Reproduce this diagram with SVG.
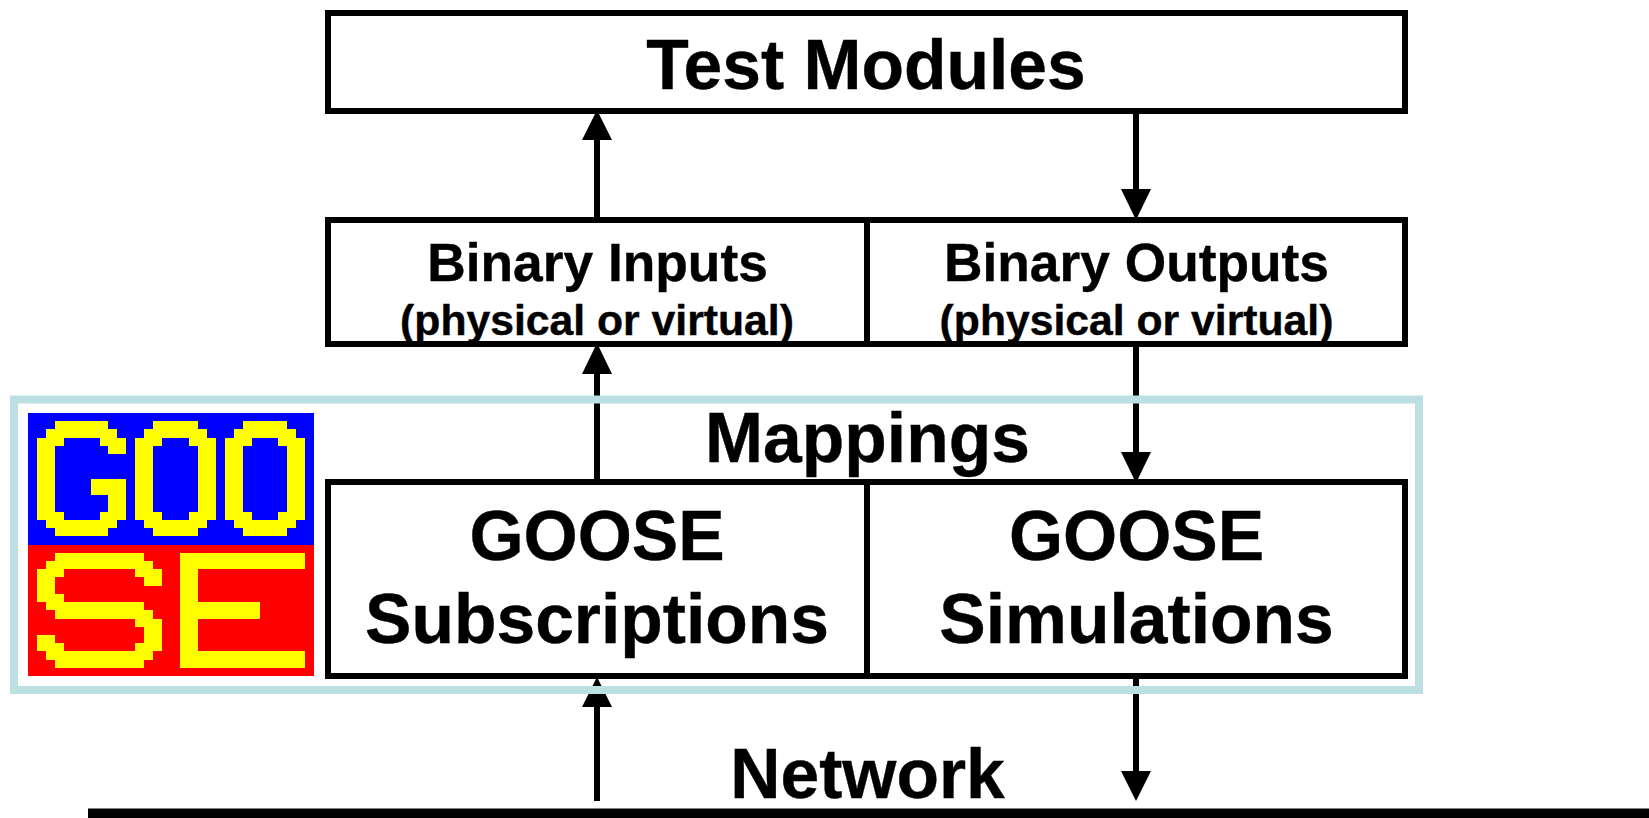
<svg xmlns="http://www.w3.org/2000/svg" width="1649" height="818" viewBox="0 0 1649 818">
<style>
text{font-family:"Liberation Sans",Arial,sans-serif;font-weight:bold;fill:#000;stroke:#000;stroke-width:.4;text-anchor:middle}
.big{font-size:69.6px}.mid{font-size:53.3px}.small{font-size:42.7px}
.box{fill:#fff;stroke:#000;stroke-width:6}
.div{stroke:#000;stroke-width:6;fill:none}
.conn{stroke:#000;stroke-width:6;fill:none}
.head{fill:#000}
.y{fill:#ff0}
</style>
<rect width="1649" height="818" fill="#fff"/>
<g id="test-modules"><rect class="box" x="328" y="13" width="1077" height="98"/><text class="big" x="866" y="89">Test Modules</text></g>
<g id="binary-io">
<rect class="box" x="328" y="220" width="1077" height="124"/><path class="div" d="M867 220V344"/>
<g id="binary-inputs"><text class="mid" x="597.5" y="281">Binary Inputs</text><text class="small" x="597" y="335">(physical or virtual)</text></g>
<g id="binary-outputs"><text class="mid" x="1136.5" y="281">Binary Outputs</text><text class="small" x="1136.5" y="335">(physical or virtual)</text></g>
</g>
<g id="goose-box">
<rect class="box" x="328" y="482" width="1077" height="194"/><path class="div" d="M867 482V676"/>
<g id="goose-subscriptions"><text class="big" x="597" y="560">GOOSE</text><text class="big" x="597" y="643">Subscriptions</text></g>
<g id="goose-simulations"><text class="big" x="1136.5" y="560">GOOSE</text><text class="big" x="1136.5" y="643">Simulations</text></g>
</g>
<g id="connectors">
<path class="conn" d="M597 220V138"/><path class="head" d="M597 110L612 140H582Z"/>
<path class="conn" d="M1136 111V191"/><path class="head" d="M1136 220L1121 189H1151Z"/>
<path class="conn" d="M597 482V372"/><path class="head" d="M597 343L612 374H582Z"/>
<path class="conn" d="M1136 344V454"/><path class="head" d="M1136 483L1121 452H1151Z"/>
<path class="conn" d="M597 801V705"/><path class="head" d="M597 677L612 707H582Z"/>
<path class="conn" d="M1136 679V773"/><path class="head" d="M1136 801L1121 771H1151Z"/>
</g>
<g id="mappings"><rect x="14" y="399.5" width="1405" height="290.5" fill="none" stroke="#bce0e2" stroke-width="8"/><text class="big" x="867.5" y="462">Mappings</text></g>
<g id="goose-logo" aria-label="GOOSE" transform="translate(28 413) scale(8.94 8.22)" shape-rendering="crispEdges">
<rect width="32" height="16" fill="#00f"/><rect y="16" width="32" height="16" fill="#f00"/>
<path class="y" d="M3 1H9V2H10V3H11V5H9V4H8V3H4V4H3V12H4V13H8V12H9V10H7V8H11V13H10V14H9V15H3V14H2V13H1V3H2V2H3Z"/>
<path class="y" fill-rule="evenodd" d="M14 1H19V2H20V3H21V13H20V14H19V15H14V14H13V13H12V3H13V2H14ZM15 3V4H14V12H15V13H18V12H19V4H18V3Z"/>
<path class="y" fill-rule="evenodd" d="M24 1H29V2H30V3H31V13H30V14H29V15H24V14H23V13H22V3H23V2H24ZM25 3V4H24V12H25V13H28V12H29V4H28V3Z"/>
<path class="y" d="M3 17H13V18H14V19H15V21H13V20H12V19H4V20H3V22H4V23H13V24H14V25H15V29H14V30H13V31H3V30H2V29H1V27H3V28H4V29H12V28H13V26H12V25H3V24H2V23H1V19H2V18H3Z"/>
<path class="y" d="M17 17H31V19H19V23H26V25H19V29H31V31H17Z"/>
</g>
<g id="network"><text class="big" x="867.5" y="798">Network</text><rect x="88" y="808.5" width="1561" height="9.5" fill="#000"/></g>
</svg>
